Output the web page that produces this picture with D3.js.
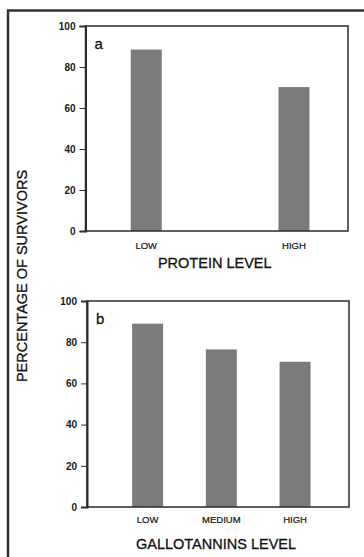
<!DOCTYPE html>
<html><head><meta charset="utf-8">
<script src="https://cdn.jsdelivr.net/npm/d3@7"></script>
<style>body{margin:0;background:#fff}svg{display:block}text{font-family:"Liberation Sans",Arial,sans-serif}</style>
</head><body>
<script>
// Data
const slots = ["LOW", "MEDIUM", "HIGH"];
const proteinCats = ["LOW", "HIGH"];
const proteinVals = [88.5, 70.2];
const tanninCats = ["LOW", "MEDIUM", "HIGH"];
const tanninVals = [89.0, 76.5, 70.5];
const yTicks = [0, 20, 40, 60, 80, 100];
const yTitle = "PERCENTAGE OF SURVIVORS";

const W = 364, H = 557;
const FONT = "Liberation Sans, Arial, sans-serif";
const svg = d3.select("body").append("svg").attr("width", W).attr("height", H);

// outer frame (top + left)
svg.append("path").attr("d", `M8,${H} V10.5 H${W}`).attr("fill", "none")
  .attr("stroke", "#333").attr("stroke-width", 2.5);

function panel(opt) {
  const {x0, x1, y0, y1, cats, vals, letter, title, catPad, titleOff} = opt;
  const x = d3.scaleBand().domain(slots).range([x0, x1])
    .paddingInner(0.58).paddingOuter(0.567).align(0.54);
  const y = d3.scaleLinear().domain([0, 100]).range([y1, y0]);
  const g = svg.append("g");

  // bars
  g.selectAll("rect.bar").data(cats.map((c, i) => ({c, v: vals[i]}))).join("rect")
    .attr("class", "bar")
    .attr("x", d => x(d.c)).attr("width", x.bandwidth())
    .attr("y", d => y(d.v)).attr("height", d => y(0) - y(d.v))
    .attr("fill", "#7b7b7b");

  // box
  g.append("rect").attr("x", x0).attr("y", y0).attr("width", x1 - x0).attr("height", y1 - y0)
    .attr("fill", "none").attr("stroke", "#2a2a2a").attr("stroke-width", 1.5);

  // y axis
  const ya = g.append("g").attr("transform", `translate(${x0},0)`)
    .call(d3.axisLeft(y).tickValues(yTicks).tickSize(6).tickPadding(4));
  ya.select(".domain").attr("stroke", "#2a2a2a").attr("stroke-width", 2);
  ya.selectAll(".tick line").attr("stroke", "#333").attr("stroke-width", 1);
  ya.selectAll(".tick text").attr("font-size", 10).attr("fill", "#1a1a1a")
    .attr("font-family", FONT).attr("font-weight", "bold");

  // x labels
  const xa = g.append("g").attr("transform", `translate(0,${y1})`)
    .call(d3.axisBottom(x).tickValues(cats).tickSize(0).tickPadding(catPad));
  xa.select(".domain").remove();
  xa.selectAll(".tick text").attr("font-size", 9.5).attr("fill", "#111")
    .attr("font-family", FONT).attr("stroke", "#111").attr("stroke-width", 0.2);

  // panel letter
  g.append("text").attr("x", x0 + 9).attr("y", y0 + 23).attr("font-size", 15)
    .attr("fill", "#111").attr("stroke", "#111").attr("stroke-width", 0.3).text(letter);

  // x title
  g.append("text").attr("x", (x0 + x1) / 2 - 2).attr("y", y1 + titleOff)
    .attr("text-anchor", "middle").attr("font-size", 14.5).attr("fill", "#111")
    .attr("stroke", "#111").attr("stroke-width", 0.3)
    .text(title);
}

panel({x0: 85.5, x1: 348, y0: 26, y1: 231, cats: proteinCats, vals: proteinVals,
  letter: "a", title: "PROTEIN LEVEL", catPad: 11, titleOff: 37});
panel({x0: 87, x1: 349, y0: 301, y1: 507, cats: tanninCats, vals: tanninVals,
  letter: "b", title: "GALLOTANNINS LEVEL", catPad: 9, titleOff: 42});

svg.append("text").attr("transform", "translate(27,276) rotate(-90)")
  .attr("text-anchor", "middle").attr("font-size", 14.5).attr("fill", "#111")
  .attr("stroke", "#111").attr("stroke-width", 0.3)
  .text(yTitle);
</script>
</body></html>
